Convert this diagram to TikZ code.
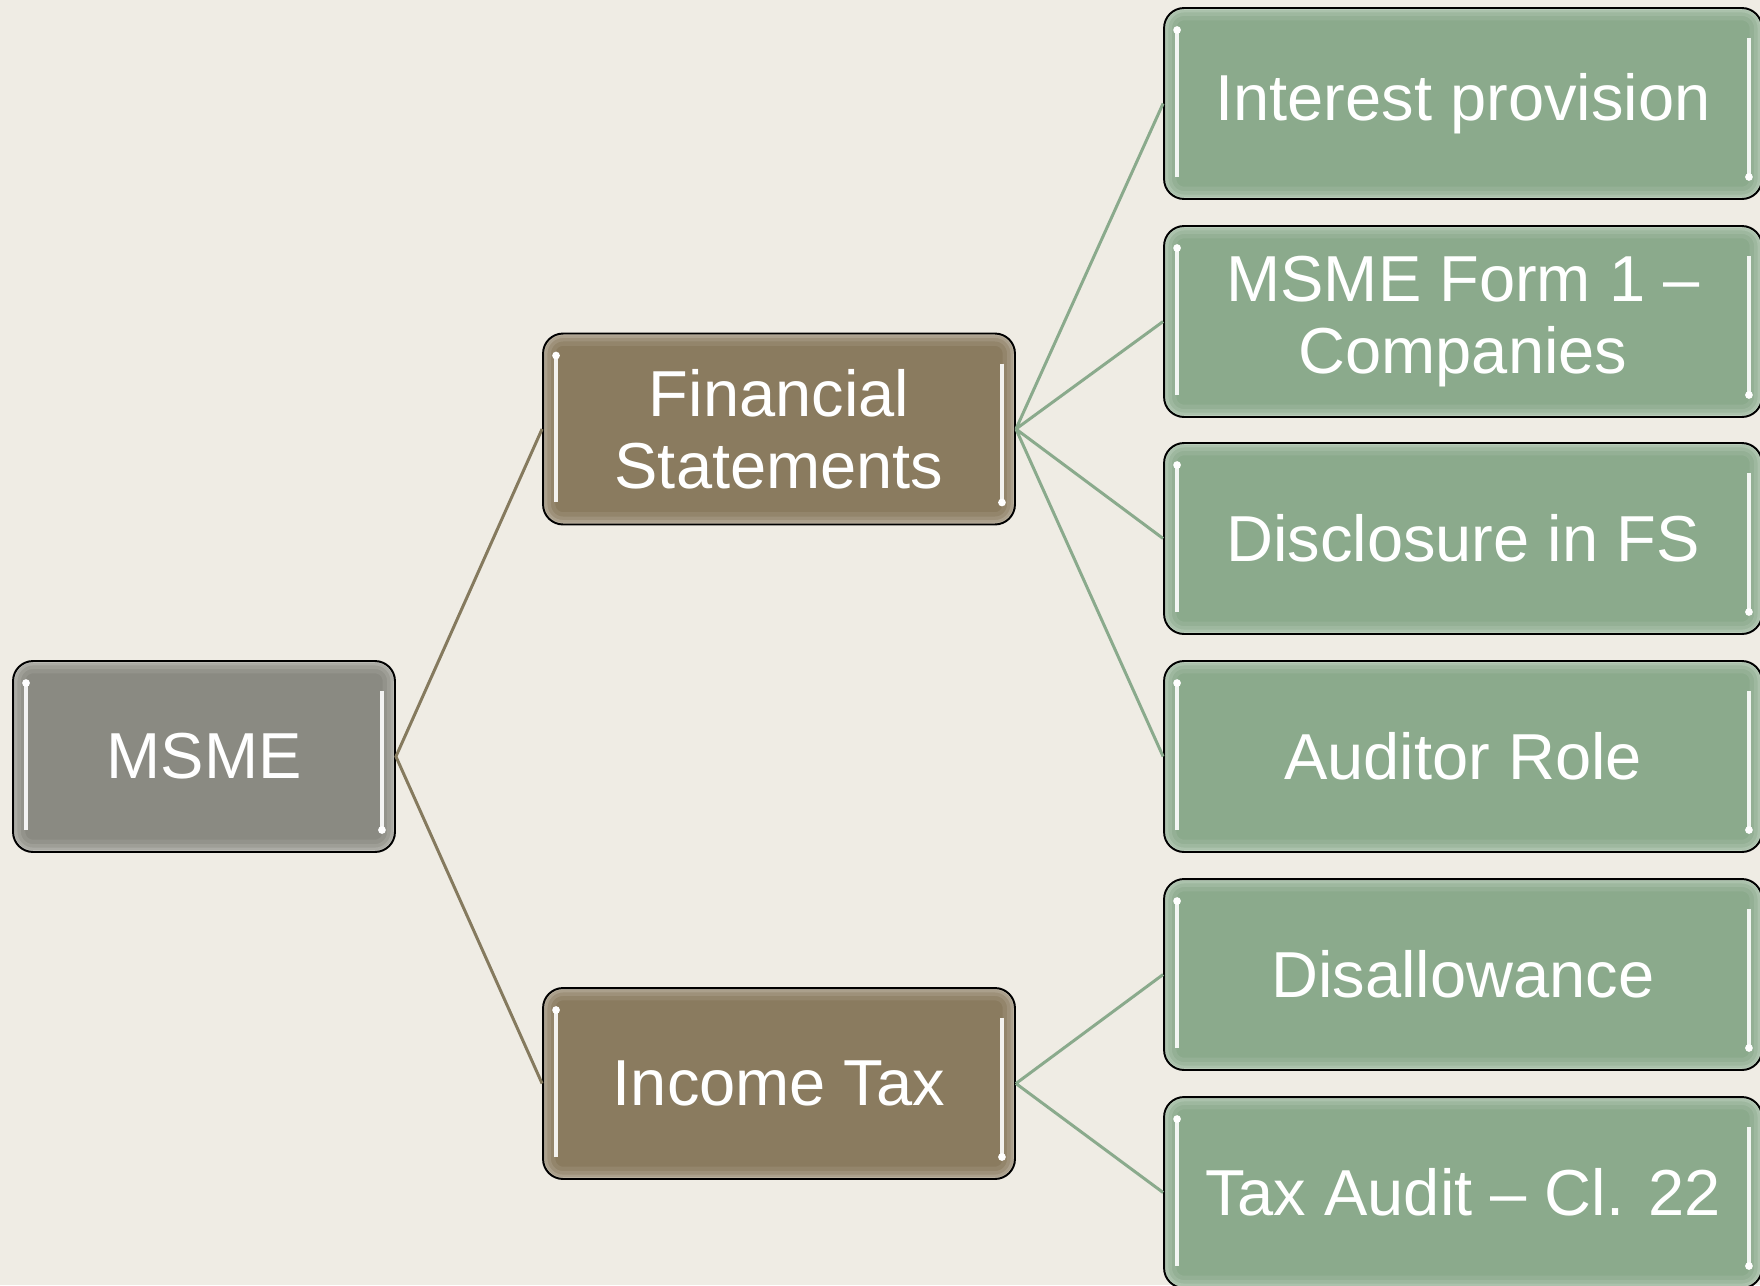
\documentclass[tikz,border=0pt]{standalone}
\usepackage{fontspec}
\setmainfont{Liberation Sans}

\definecolor{bgcream}{HTML}{EFECE4}
\definecolor{msmegray}{HTML}{8A8A82}
\definecolor{topicbrown}{HTML}{8A7B5F}
\definecolor{itemgreen}{HTML}{8BAA8C}
\definecolor{linkbrown}{HTML}{857A5E}
\definecolor{linkgreen}{HTML}{8AAA8C}

\tikzset{
  box/.style={draw=black, line width=1.1pt, rounded corners=0.4cm, fill=#1,
    text=white, align=center, inner sep=0pt, minimum height=3.82cm,
    font=\fontsize{37}{41}\selectfont,
    path picture={
      \foreach \w/\o in {14pt/.08, 9pt/.1, 5pt/.14, 2pt/.18}
        \draw[white, opacity=\o, line width=\w, rounded corners=0.4cm]
          (path picture bounding box.south west) rectangle (path picture bounding box.north east);
      \draw[white, opacity=.9, line width=2pt]
        ([shift={(0.26cm,-0.44cm)}]path picture bounding box.north west)
        -- ([shift={(0.26cm,0.44cm)}]path picture bounding box.south west);
      \fill[white] ([shift={(0.26cm,-0.44cm)}]path picture bounding box.north west) circle (2.2pt);
      \draw[white, opacity=.9, line width=2pt]
        ([shift={(-0.26cm,-0.6cm)}]path picture bounding box.north east)
        -- ([shift={(-0.26cm,0.44cm)}]path picture bounding box.south east);
      \fill[white] ([shift={(-0.26cm,0.44cm)}]path picture bounding box.south east) circle (2.2pt);
    }},
  link/.style={line width=1.7pt, draw=#1},
}

\begin{document}
\begin{tikzpicture}[x=0.02cm, y=-0.02cm]
\useasboundingbox (0,0) rectangle (1760,1285);
\clip (0,0) rectangle (1760,1285);
\fill[bgcream] (0,0) rectangle (1760,1285);

\node[box=msmegray, minimum width=7.64cm] (msme) at (204,756.5) {MSME};

\node[box=topicbrown, minimum width=9.44cm] (fs) at (779,429) {Financial\\Statements};
\node[box=topicbrown, minimum width=9.44cm] (itax) at (779,1083.5) {Income Tax};

\node[box=itemgreen, minimum width=11.96cm] (interest) at (1463,103.5) {Interest provision};
\node[box=itemgreen, minimum width=11.96cm] (form1) at (1463,321.5) {MSME Form 1 –\\Companies};
\node[box=itemgreen, minimum width=11.96cm] (disclosure) at (1463,538.5) {Disclosure in FS};
\node[box=itemgreen, minimum width=11.96cm] (auditor) at (1463,756.5) {Auditor Role};
\node[box=itemgreen, minimum width=11.96cm] (disallow) at (1463,974.5) {Disallowance};
\node[box=itemgreen, minimum width=11.96cm] (taxaudit) at (1463,1192.5) {Tax Audit – Cl. 22};

\draw[link=linkbrown] (fs.west) -- (msme.east) -- (itax.west);
\draw[link=linkgreen] (fs.east) -- (interest.west) (fs.east) -- (form1.west)
  (fs.east) -- (disclosure.west) (fs.east) -- (auditor.west);
\draw[link=linkgreen] (itax.east) -- (disallow.west) (itax.east) -- (taxaudit.west);
\end{tikzpicture}
\end{document}
